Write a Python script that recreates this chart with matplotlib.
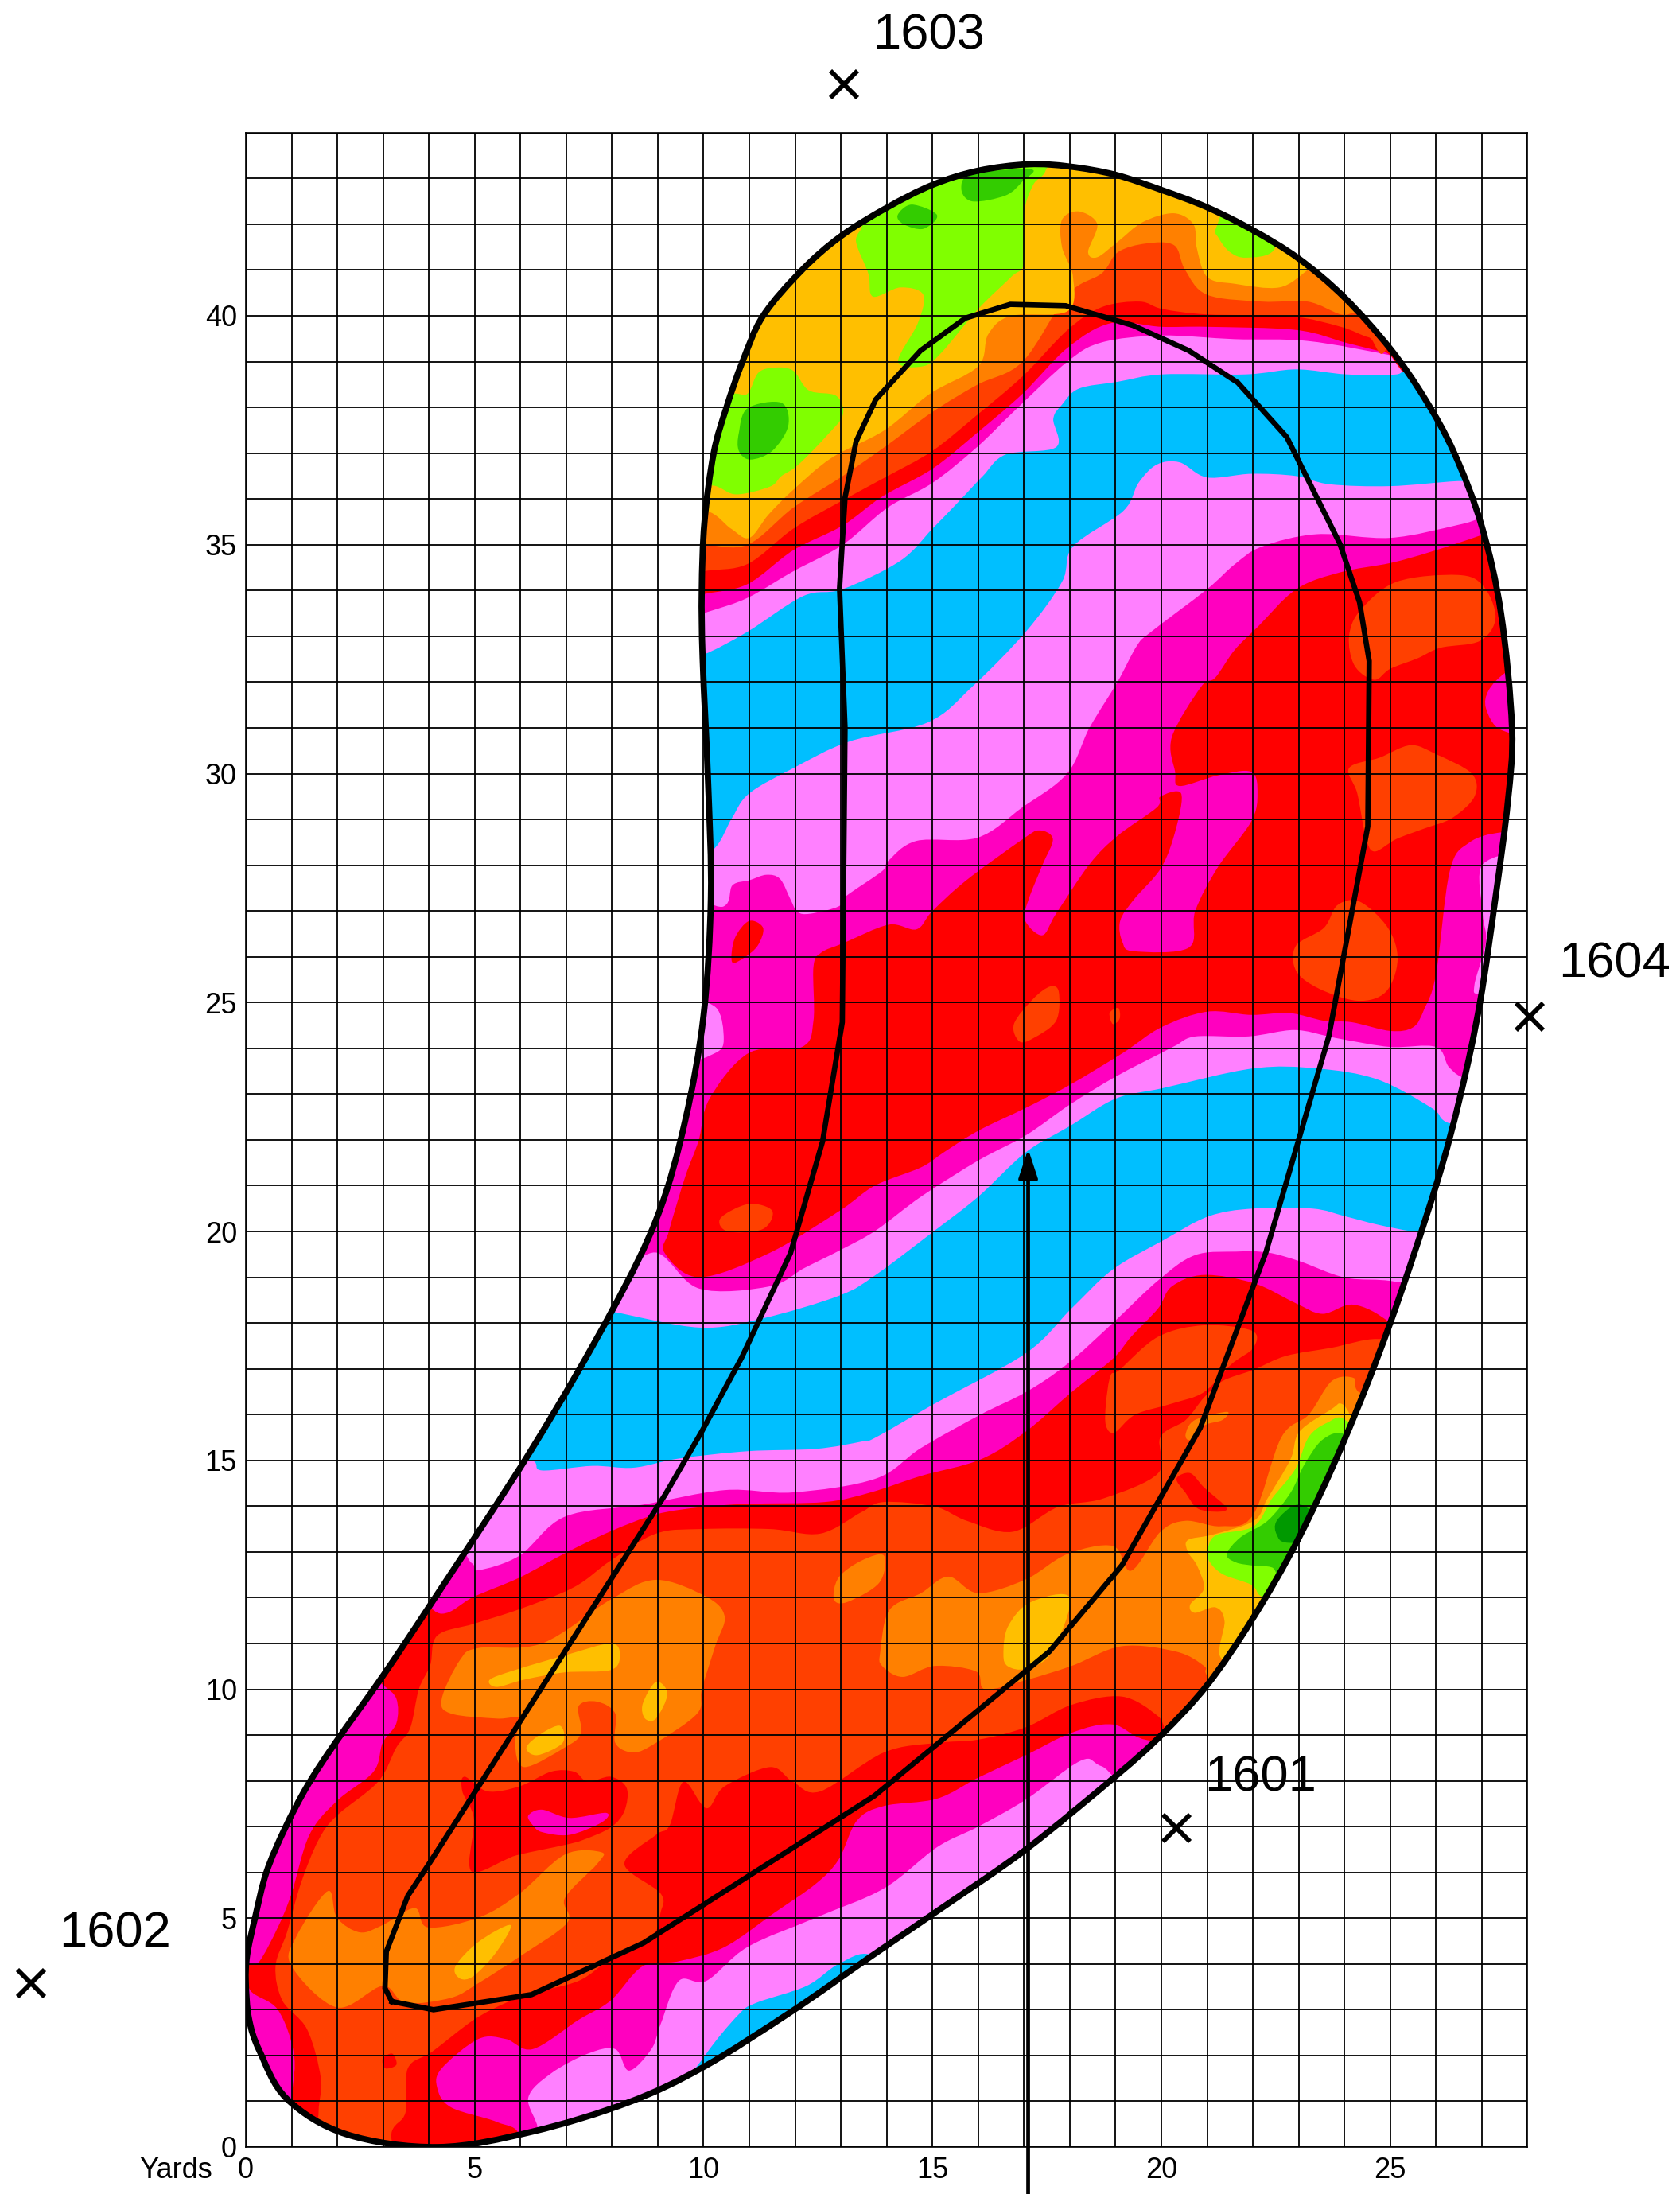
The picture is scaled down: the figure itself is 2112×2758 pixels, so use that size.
import matplotlib
matplotlib.use('Agg')
import matplotlib.pyplot as plt
import numpy as np
from matplotlib.patches import PathPatch
from matplotlib.path import Path

# Colores de los niveles
PINK = '#FF80FF'
BLUE = '#00BFFF'
MAGENTA = '#FF00BF'
RED = '#FF0000'
RED_ORANGE = '#FF4000'
ORANGE = '#FF8000'
AMBER = '#FFBF00'
LIME = '#80FF00'
GREEN = '#33CC00'
DARK_GREEN = '#009900'

# Contorno del green y linea interior, en yardas
outline = [(4.2,0),(6.27,0.34),(8.37,0.98),(10,1.75),(11.95,2.98),(13.65,4.16),(15.2,5.22),(17.04,6.5),(19,8.1),(20,9.0),(21,10.09),
           (22,11.55),(23,13.3),(24,15.45),(25,18),(26,21),(26.54,23),(26.96,25),(27.3,27.3),(27.57,29.4),(27.66,31),(27.42,33.5),
           (27.0,35.4),(26.4,37),(25.75,38.2),(25,39.28),(24,40.4),(23,41.25),(22,41.87),(21,42.37),(20,42.75),(19,43.08),(18,43.26),
           (17.1,43.31),(16,43.17),(15,42.86),(14,42.36),(13,41.74),(12.15,41),(11.3,40),(10.85,39),(10.5,38),(10.22,37),(10.02,35.5),
           (9.96,34),(9.98,32.5),(10.1,29.77),(10.16,27.3),(10,24.72),(9.6,22.43),(9,20.35),(7.99,18.25),(6.25,15.25),(4.1,11.95),
           (3,10.3),(1.97,8.85),(1.35,7.9),(0.85,6.95),(0.45,6),(0.2,5),(0.03,4.2),(0,3.6),(0.07,2.8),(0.3,2.1),(0.9,1.05),(2.2,0.28)]
inner_line = [(3.19,3.18),(3.04,3.47),(3.07,4.27),(3.54,5.49),(4.03,6.23),(9.16,14.25),(9.96,15.63),(10.83,17.24),(11.9,19.53),
              (12.6,21.97),(13.03,24.57),(13.09,31),(12.97,34.05),(13.09,36.03),(13.33,37.25),(13.76,38.17),(14.74,39.24),
              (15.72,39.95),(16.7,40.25),(17.91,40.22),(19.38,39.79),(20.6,39.24),(21.67,38.54),(22.74,37.35),(23.9,35.02),
              (24.33,33.74),(24.54,32.46),(24.51,28.85),(23.66,24.27),(22.28,19.53),(20.85,15.71),(19.14,12.71),(17.55,10.82),
              (17.1,10.45),(13.73,7.67),(8.69,4.46),(6.24,3.33),(4.1,3.0),(3.19,3.18)]

# Zonas azules
blue_low = [(10.06,2.04),(10.76,2.89),(11.15,3.15),(12.25,3.52),(12.95,4.0),(13.65,4.2),(14.5,3.5),(10.5,0.8),(9.6,1.2)]
blue_mid = [(7.99,18.25),(9.91,17.9),(11.29,18.1),(12.97,18.6),(13.76,19.05),(15.05,20.02),(16,20.76),(17.04,21.73),(18,22.3),
            (19,22.9),(20.03,23.13),(22,23.56),(23.4,23.56),(24.72,23.32),(25.9,22.7),(26.2,22.4),(27,22),(26.5,19.9),(25.5,20.0),
            (24.72,20.15),(24.02,20.33),(23.3,20.5),(22,20.5),(21.03,20.33),(20.03,19.8),(18.94,19.17),(18.04,18.32),(17.04,17.34),
            (15.05,16.24),(13.76,15.5),(13.45,15.41),(12.45,15.25),(10.96,15.2),(9.46,15.04),(8.47,14.84),(7.57,14.88),(6.47,14.78),
            (6.27,14.99),(5.5,15.2),(7,18.4)]
blue_top = [(10,32.6),(10.96,33.1),(12.18,33.88),(13.04,34.03),(14.3,34.65),(15,35.35),(15.6,35.97),(16.1,36.5),(16.6,36.97),
            (17.7,37.13),(17.64,37.75),(17.83,38.06),(18.2,38.41),(19.05,38.56),(20.02,38.72),(21.85,38.72),(22.95,38.83),
            (24.04,38.72),(25.14,38.72),(25.6,38.9),(28,38),(27.5,36.4),(26.47,36.39),(25,36.28),(23.68,36.32),(22.95,36.5),
            (21.97,36.55),(21,36.47),(20.4,36.8),(19.9,36.75),(19.5,36.35),(19.17,35.74),(18.07,34.96),(17.83,34.19),(17.04,33.1),
            (15.87,31.9),(14.9,31.12),(13.18,30.7),(11.96,30.12),(11,29.57),(10.62,29.03),(10.2,28.33),(9.4,28),(9.4,32.5)]

# Zonas magenta
magenta_low = [(4.93,12.76),(5.08,12.6),(5.98,12.92),(6.97,13.77),(8.66,14.03),(10.46,14.35),(11.95,14.3),(13.76,14.6),(14.75,15.27),
               (16.05,16),(17.04,16.49),(17.94,17.1),(18.94,18),(19.93,18.93),(20.73,19.48),(21.63,19.56),(22.32,19.54),(23.02,19.35),
               (24.02,18.99),(25.12,18.9),(26.5,18.5),(22,10),(19.6,8),(18.69,8.32),(18.24,8.44),(17.04,7.59),(16,7.0),(15.1,6.55),
               (13.94,5.65),(12.45,5.01),(10.96,4.37),(10.06,3.63),(9.46,3.63),(9.06,2.68),(8.86,2.14),(8.37,1.67),(8.07,2.14),
               (7.47,2.04),(6.67,1.61),(6.17,1.08),(6.37,0.39),(5.98,0.1),(5.9,-1),(-1,-1),(-1,5),(2,10.5),(4.2,13.2)]
magenta_mid = [(10.44,27.1),(10.63,27.56),(11,27.67),(11.37,27.79),(11.67,27.7),(11.9,27.25),(12.05,26.98),(12.33,26.94),(12.95,27.1),
               (13.12,27.33),(13.9,27.87),(14.04,28.1),(14.65,28.53),(15.98,28.6),(16.96,29.26),(17.94,30),(18.43,31),(19.04,32),
               (19.47,32.8),(19.78,33.1),(21,34.03),(21.6,34.57),(22.2,34.96),(23.4,35.23),(25,35.15),(26.47,35.43),(26.96,35.58),
               (27.5,35.8),(28.5,36),(28.5,23),(26.8,23.3),(26.3,23.57),(26,24.03),(25,24.03),(24,24.19),(23.65,24.26),(22.9,24.4),
               (21.9,24.26),(20.75,24.26),(20.33,24.07),(20,23.9),(19,23.38),(18,22.77),(17.04,22.1),(16,21.55),(14.75,20.76),
               (13.76,20.02),(13,19.6),(12.2,19.2),(11.44,18.8),(9.91,18.75),(9,19.53),(8,19.5),(9,24),(9.5,27)]
magenta_top = [(10.08,33.53),(10.96,33.84),(11.96,34.42),(13.04,35),(14.02,35.81),(15,36.35),(15.97,37.13),(16.85,37.98),(17.95,39),
               (18.7,39.42),(20,39.57),(21.6,39.49),(23.2,39.45),(25,39.14),(25.6,39),(26,44),(9,44),(9,33.2)]
magenta_right = [(27.51,32.2),(27.15,31.82),(27.09,31.43),(27.39,30.97),(28,31),(28,32.4)]
magenta_spot = [(6.17,7.24),(6.47,7.37),(7.07,7.19),(7.87,7.3),(7.77,7.09),(7.07,6.82),(6.47,6.88),(6.27,7.03)]

# Zonas rosa sobre el magenta
pink_left = [(10.26,24.9),(10.44,24.2),(10.26,23.9),(9.6,23.8),(9.5,25)]
pink_right = [(27.02,28.02),(27.02,26.94),(27.09,26.32),(26.84,25.39),(26.96,25.2),(27.8,25.5),(28,28)]

# Zonas rojas
red_low = [(4.28,11.65),(4.98,12.02),(5.98,12.44),(6.97,12.97),(7.97,13.45),(8.96,13.82),(9.96,13.98),(10.96,14.05),(12.65,14.09),
           (13.65,14.3),(14.75,14.66),(16.05,15.02),(17.04,15.63),(18.04,16.49),(18.94,17.22),(19.34,17.7),(19.93,18.32),(20.23,18.8),
           (20.93,19.05),(22.02,18.87),(22.92,18.44),(23.52,18.2),(24.2,18.4),(25,18),(26,17),(22,9),(19.83,8.87),(18.94,9.23),
           (18.04,9.05),(17.04,8.56),(16,8.07),(15.1,7.61),(13.94,7.45),(13.35,7.13),(12.95,6.28),(12.45,5.75),(11.55,5.12),
           (10.46,4.37),(9.46,4.06),(8.67,3.95),(7.97,3.2),(7.27,2.78),(6.27,2.14),(5.68,2.36),(5.08,2.36),(4.28,1.72),(4.18,1.3),
           (4.48,0.87),(5.48,0.55),(5.98,0.23),(5.9,-1),(0.8,-0.5),(1,1.08),(1.05,2.04),(0.7,3.0),(0.1,3.42),(0.05,3.95),(0.3,4.06),
           (0.7,4.8),(1,5.54),(1.39,6.82),(1.99,7.56),(2.79,8.2),(2.99,8.83),(3.29,9.26),(3.29,9.79),(2.99,10.1),(2.5,10.5),(3.5,12)]
red_mid = [(9.15,19.53),(9.24,20),(9.6,21.2),(9.89,21.98),(10.13,22.9),(10.99,23.9),(12.15,24.03),(12.4,24.6),(12.4,25.78),(12.57,26.09),
           (13.06,26.3),(14.04,26.7),(14.65,26.6),(15,27),(15.74,27.67),(16.96,28.56),(17.33,28.76),(17.63,28.57),(17.4,28),(17.1,27.25),
           (17.02,26.8),(17.4,26.47),(17.7,26.94),(18.43,28.02),(19.04,28.64),(19.9,29.26),(19.98,29.5),(20.43,29.57),(20.32,28.8),(20,27.95),
           (19.4,27.25),(19.1,26.78),(19.15,26.32),(19.4,26.12),(20.6,26.2),(20.74,27),(21.23,27.95),(21.96,28.95),(22.1,29.57),(21.96,30.04),
           (21.23,29.96),(20.4,29.73),(20.3,30.04),(20.23,30.8),(20.87,31.9),(21.18,32.1),(21.6,32.7),(22.1,33.2),(22.95,34.03),(23.92,34.4),
           (25,34.6),(25.87,34.84),(26.96,35.2),(27.3,35.35),(28.5,35),(28.5,28.7),(27.45,28.72),(26.72,28.49),(26.3,27.87),(26,25.62),
           (25.74,24.85),(25.5,24.46),(25,24.38),(24.16,24.57),(23.56,24.6),(22.8,24.77),(21.96,24.73),(21,24.8),(20,24.46),(19.16,23.9),
           (18,23.2),(17.04,22.7),(16,22.2),(15.25,21.73),(14.75,21.4),(13.74,21),(12.97,20.45),(11.44,19.53),(9.91,19)]
red_top = [(10,33.92),(10.96,34.14),(11.96,34.88),(13.04,35.42),(13.9,36.05),(15,36.66),(15.97,37.44),(16.97,38.3),(17.95,39.3),(18.9,39.84),
           (20,39.76),(21,39.76),(22.95,39.69),(24.04,39.41),(24.9,39.2),(25.5,39.1),(26,44),(9,44),(9,33.7)]
red_spot = [(10.62,25.89),(10.68,26.4),(10.99,26.78),(11.3,26.63),(11.18,26.24),(10.87,25.97)]
red_island = [(4.78,8.09),(5.28,7.77),(5.98,7.88),(6.67,8.2),(7.17,8.2),(7.47,7.98),(7.97,8.09),(8.32,7.84),(8.27,7.34),(7.97,6.98),
              (7.37,6.71),(6.97,6.6),(5.98,6.39),(5.68,6.28),(5.08,6.01),(4.88,6.18),(4.98,7.17),(4.73,7.77)]
red_small_a = [(20.33,14.6),(20.63,14.72),(20.93,14.41),(21.43,13.93),(20.83,13.93),(20.53,14.29)]
red_small_b = [(2.99,1.93),(3.2,2.04),(3.29,1.8),(3.05,1.72)]

# Zonas rojo-naranja
ro_low = [(1.59,0.76),(1.64,1.5),(1.34,2.57),(0.8,3.2),(0.65,3.95),(0.9,4.69),(1.2,5.75),(1.59,6.71),(1.99,7.24),(2.89,7.98),(3.29,8.73),
          (3.59,9.15),(3.78,10),(4.03,10.53),(4.18,11.17),(4.98,11.43),(5.98,11.75),(7.17,12.23),(7.97,12.81),(8.96,13.4),(9.96,13.5),
          (11.45,13.5),(12.55,13.4),(13.45,13.87),(13.94,14.09),(15.05,13.99),(15.75,13.68),(16.75,13.44),(17.74,13.98),(18.74,14.17),
          (19.93,14.72),(19.98,15.51),(20.53,15.88),(20.93,16.37),(21.33,16.73),(22.02,16.98),(22.72,17.28),(23.72,17.46),(24.72,17.65),
          (25.5,17.4),(25,15),(21,9.5),(20.2,9.0),(19.93,9.41),(19.14,9.84),(18.04,9.66),(17.04,9.17),(16,8.9),(15.1,8.83),(13.94,8.62),
          (12.55,7.77),(11.95,7.98),(11.45,8.3),(10.46,7.88),(10.06,7.4),(9.56,7.98),(9.26,7.03),(8.96,6.82),(8.27,6.18),(9.06,5.54),
          (9.06,5.12),(8.86,4.59),(7.97,4.11),(7.27,3.63),(6.27,3.37),(5.68,3.15),(4.98,2.78),(4.08,2.09),(3.54,1.72),(3.49,0.76),
          (3.19,0.34),(3.1,-0.5),(1.6,-0.5)]
ro_upper = [(18.79,16.24),(18.89,16.85),(19.09,16.98),(19.93,17.7),(20.93,17.95),(21.98,17.83),(22.01,17.46),(21.53,17.1),(20.93,16.49),
            (20.23,16.24),(19.43,16),(18.98,15.61),(18.79,15.76)]
ro_top = [(10,34.42),(10.96,34.58),(11.96,35.35),(13.04,35.97),(14.02,36.5),(15,37.05),(15.97,37.83),(16.97,38.68),(17.95,39.69),(18.7,40.19),
          (19.53,40.31),(20.02,40.15),(21,40.03),(22.82,39.99),(23.92,39.76),(24.53,39.53),(25,39.5),(26,44),(9,44),(9,34.2)]
ro_blob_1 = [(24.1,33),(24.35,33.57),(25.14,34.19),(26.47,34.34),(27.03,34.1),(27.3,33.41),(26.96,32.9),(26.1,32.75),(25.6,32.52),(25,32.29),
             (24.65,32.05),(24.22,32.36)]
ro_blob_2 = [(24.1,30.12),(24.77,30.35),(25.44,30.62),(25.99,30.43),(26.78,30),(26.84,29.5),(26.35,29.03),(25.74,28.8),(25.13,28.57),(24.65,28.3),
             (24.46,28.64),(24.28,29.57)]
ro_blob_3 = [(22.94,26.24),(23.55,26.63),(23.85,27.13),(24.34,27.2),(24.95,26.63),(25.16,25.93),(24.9,25.23),(24.28,25.04),(23.43,25.31),(22.94,25.7)]
ro_blob_4 = [(16.78,24.53),(17.2,25.08),(17.57,25.35),(17.76,25.23),(17.7,24.6),(17.2,24.22),(16.9,24.15)]
ro_blob_5 = [(18.87,24.77),(19.06,24.88),(19.09,24.65),(18.94,24.53)]
ro_blob_6 = [(10.37,20.29),(10.98,20.6),(11.5,20.45),(11.29,20.05),(10.53,20)]

# Zonas naranja
orange_a = [(1.1,4.59),(1.79,5.59),(1.99,5.01),(2.49,4.69),(2.99,4.85),(3.69,5.22),(3.98,4.8),(5.08,5.01),(5.98,5.54),(6.97,6.39),(7.77,6.44),
            (7.67,6.18),(6.97,5.44),(7.02,4.9),(5.98,4.16),(5.08,3.58),(4.48,3.26),(3.49,3.15),(2.99,3.52),(1.99,3.05),(1,3.95)]
orange_b = [(4.28,9.79),(4.68,10.64),(5.08,10.9),(6.47,11.0),(7.97,11.96),(8.96,12.39),(10.06,12.02),(10.46,11.59),(10.26,10.96),(9.96,10),
            (9.86,9.47),(8.96,8.83),(8.47,8.62),(8.07,8.83),(8.07,9.47),(7.67,9.73),(7.27,9.63),(7.32,9.04),(6.97,8.73),(6.08,8.3),(5.88,8.83),
            (5.98,9.36),(5.48,9.36),(4.48,9.47)]
orange_c = [(12.85,11.96),(12.95,12.44),(13.45,12.81),(13.94,12.92),(13.84,12.33),(13.15,11.91)]
orange_d = [(13.86,10.82),(14.06,11.73),(14.75,12.1),(15.35,12.46),(16,12.1),(17.04,12.4),(17.94,12.95),(18.94,13.13),(19.34,12.59),(19.98,13.44),
            (20.53,13.68),(21.3,13.56),(22,13.8),(22.62,15.5),(23.22,16),(23.72,16.73),(24.2,16.8),(24.3,16.5),(25,16),(23,11),(21.3,9.8),(20.98,10.33),
            (20.93,10.51),(20.33,10.82),(19.14,10.94),(18.04,10.51),(17.04,10.2),(16.15,10.0),(15.95,10.39),(15.05,10.51),(14.35,10.27),(13.9,10.51)]
orange_e = [(20.53,15.57),(20.73,15.88),(21.43,16.06),(21.33,15.88),(20.93,15.76),(20.63,15.45)]
orange_top = [(10,35),(10.96,35),(11.96,35.81),(13.04,36.5),(13.95,37.13),(15,37.9),(15.97,38.49),(16.97,39),(17.95,40.46),(18.7,40.93),(19.05,41.39),
              (19.67,41.58),(20.28,41.54),(20.52,41),(21,40.46),(22.2,40.31),(23.2,40.31),(23.92,40.03),(24.28,40.07),(25,40),(26,44),(9,44),(9,35)]

# Zonas ambar
amber_a = [(5.33,10.21),(5.88,10.42),(6.97,10.74),(7.97,11.0),(8.17,10.74),(7.97,10.42),(6.97,10.37),(6.08,10.21),(5.48,10.05)]
amber_b = [(6.13,8.73),(6.47,9.04),(6.87,9.2),(6.92,8.83),(6.37,8.56)]
amber_c = [(8.67,9.68),(8.96,10.16),(9.21,9.9),(8.96,9.36),(8.72,9.36)]
amber_d = [(4.58,3.95),(5.08,4.48),(5.78,4.85),(5.48,4.27),(4.98,3.74),(4.68,3.68)]
amber_e = [(16.55,10.76),(16.65,11.37),(17.14,11.9),(18,12),(17.6,10.8),(17.04,10.45),(16.65,10.5)]
amber_f = [(20.58,13.26),(21.13,13.38),(22.02,13.68),(22.32,14.17),(22.82,15.02),(23.02,15.63),(23.72,16.12),(23.92,16.24),(24.12,16),(24.6,15),
           (22.5,10.8),(21.33,10.66),(21.38,11.49),(21.18,11.79),(20.73,11.67),(20.63,11.85),(20.93,12.2),(20.78,12.7),(20.58,13)]
amber_top = [(10.05,35.74),(10.6,35.35),(11,35.15),(11.42,35.66),(11.96,36.2),(12.8,36.9),(13.95,37.5),(14.95,38.3),(16,38.9),(16.22,39.6),(16.72,40),
             (17.95,40.1),(18.07,40.85),(17.83,41.5),(17.83,42.1),(18.2,42.28),(18.6,42),(18.4,41.4),(18.6,41.28),(19.05,41.62),(19.6,42.05),(20.27,42.24),
             (20.7,42),(20.77,41.5),(21,40.85),(21.6,40.7),(22.58,40.62),(23.2,41),(23.5,41.2),(24,44),(9,44),(9,35.7)]

# Zonas lima
lime_low = [(21.03,13.13),(21.23,13.38),(22.02,13.56),(22.42,14.17),(22.92,14.8),(23.22,15.51),(23.62,15.82),(24.02,15.88),(24.6,15),(22.6,12),
            (22.17,12.04),(21.97,12.28),(21.33,12.52),(21.03,12.83)]
lime_top = [(13.45,42),(13.33,41.62),(13.6,40.92),(13.7,40.42),(14.3,40.62),(14.8,40.46),(14.68,39.84),(14.25,39),(14.8,38.9),(15.2,39.2),(16,40.15),
            (16.72,40.85),(17,41.15),(17,42.24),(17.2,42.86),(17.47,43.17),(17.5,43.8),(14,43.8),(13,42.3)]
lime_right = [(21.2,41.93),(21.25,41.7),(21.5,41.39),(21.85,41.27),(22.45,41.43),(22.5,42.2),(21.6,42.6)]
lime_left = [(10.64,38.3),(10.96,38.3),(11.2,38.76),(11.57,38.87),(11.96,38.8),(12.3,38.37),(12.9,38.25),(13.04,37.83),(12.67,37.36),(12.06,36.74),
             (11.7,36.5),(11.45,36.27),(10.72,36.1),(10.27,36.28),(9.5,36.5),(9.8,38.2)]

# Zonas verdes
green_low = [(21.43,12.95),(21.73,13.32),(22.32,13.68),(22.82,14.29),(23.12,14.9),(23.52,15.45),(24,15.57),(24.6,15),(22.9,12.4),(22.42,12.66),
             (22.02,12.7),(21.63,12.77)]
green_a = [(15.63,42.78),(15.87,43.1),(17.15,43.2),(16.97,42.94),(16.6,42.63),(15.87,42.5)]
green_b = [(14.24,42.2),(14.55,42.43),(15.1,42.2),(14.8,41.9),(14.37,42)]
green_c = [(10.77,37.44),(10.96,37.98),(11.7,38.1),(11.85,37.6),(11.5,37.05),(11.02,36.86),(10.77,37.05)]
dark_green = [(22.52,13.68),(22.92,14.02),(23.27,13.9),(23.8,13.3),(22.77,13.2),(22.52,13.38)]

# Orden de pintado, de abajo arriba
layers = [
    (BLUE, [blue_low, blue_mid, blue_top]),
    (MAGENTA, [magenta_low, magenta_mid, magenta_top]),
    (PINK, [pink_left, pink_right]),
    (RED, [red_low, red_mid, red_top]),
    (MAGENTA, [magenta_right]),
    (RED, [red_spot]),
    (RED_ORANGE, [ro_low, ro_upper, ro_top, ro_blob_1, ro_blob_2, ro_blob_3, ro_blob_4, ro_blob_5, ro_blob_6]),
    (RED, [red_island, red_small_a, red_small_b]),
    (MAGENTA, [magenta_spot]),
    (ORANGE, [orange_a, orange_b, orange_c, orange_d, orange_e, orange_top]),
    (AMBER, [amber_a, amber_b, amber_c, amber_d, amber_e, amber_f, amber_top]),
    (LIME, [lime_low, lime_top, lime_right, lime_left]),
    (GREEN, [green_low, green_a, green_b, green_c]),
    (DARK_GREEN, [dark_green]),
]

# Posiciones de las estacas
stake_x = [20.33, -4.69, 13.06, 28.05]
stake_y = [6.97, 3.58, 45.05, 24.7]
stake_names = ['1601', '1602', '1603', '1604']
stake_label_x = [20.94, -4.08, 13.7, 28.67]
stake_label_y = [8.07, 4.65, 46.12, 25.83]

arrow_x = 17.09
arrow_tip = 21.8
arrow_foot = -1.03


def smooth_path(points):
    """Convierte una lista de puntos en un camino cerrado suave."""
    pts = np.array(points, dtype=float)
    n = len(pts)
    verts = [pts[0]]
    codes = [Path.MOVETO]
    for i in range(n):
        p0, p1, p2, p3 = pts[i - 1], pts[i], pts[(i + 1) % n], pts[(i + 2) % n]
        verts += [p1 + (p2 - p0) / 6, p2 - (p3 - p1) / 6, p2]
        codes += [Path.CURVE4] * 3
    return Path(verts, codes)


def main():
    plt.rcParams['font.family'] = ['Liberation Sans', 'DejaVu Sans']
    fig = plt.figure(figsize=(21.12, 27.58), dpi=100)
    ax = fig.add_axes([309 / 2112, 1 - 2699 / 2758, 57.55 * 28 / 2112, 57.55 * 44 / 2758])
    ax.set_xlim(0, 28)
    ax.set_ylim(0, 44)

    green_path = smooth_path(outline)
    base = PathPatch(green_path, facecolor=PINK, edgecolor='none', zorder=1)
    ax.add_patch(base)
    for color, polys in layers:
        for poly in polys:
            patch = PathPatch(smooth_path(poly), facecolor=color, edgecolor='none', zorder=1)
            ax.add_patch(patch)
            patch.set_clip_path(base)

    # Cuadricula de una yarda
    ax.set_xticks(range(0, 26, 5))
    ax.set_yticks(range(0, 41, 5))
    ax.set_xticks(range(0, 29), minor=True)
    ax.set_yticks(range(0, 45), minor=True)
    ax.set_axisbelow(False)
    ax.grid(which='both', color='black', linewidth=1.3)
    ax.tick_params(which='both', length=0, labelsize=26)
    ax.tick_params(axis='x', pad=9)
    ax.tick_params(axis='y', pad=8)
    for spine in ax.spines.values():
        spine.set_linewidth(1.2)

    ax.add_patch(PathPatch(green_path, facecolor='none', edgecolor='black', linewidth=5.6, zorder=3))
    xs, ys = zip(*inner_line)
    ax.plot(xs, ys, color='black', linewidth=4.8, solid_joinstyle='miter', zorder=3)

    ax.annotate('', xy=(arrow_x, arrow_tip), xytext=(arrow_x, arrow_foot), annotation_clip=False, zorder=4,
                arrowprops=dict(arrowstyle='-|>,head_length=1.0,head_width=0.33', mutation_scale=22, color='black',
                                linewidth=3.4, shrinkA=0, shrinkB=0))

    ax.plot(stake_x, stake_y, linestyle='none', marker='x', color='black', markersize=25, markeredgewidth=4.2, clip_on=False)
    for name, lx, ly in zip(stake_names, stake_label_x, stake_label_y):
        ax.text(lx, ly, name, fontsize=45.5, ha='left', va='center', clip_on=False)
    ax.text(-0.73, -0.52, 'Yards', fontsize=26, ha='right', va='center', clip_on=False)

    fig.savefig('out.png', dpi=100)


if __name__ == '__main__':
    main()
